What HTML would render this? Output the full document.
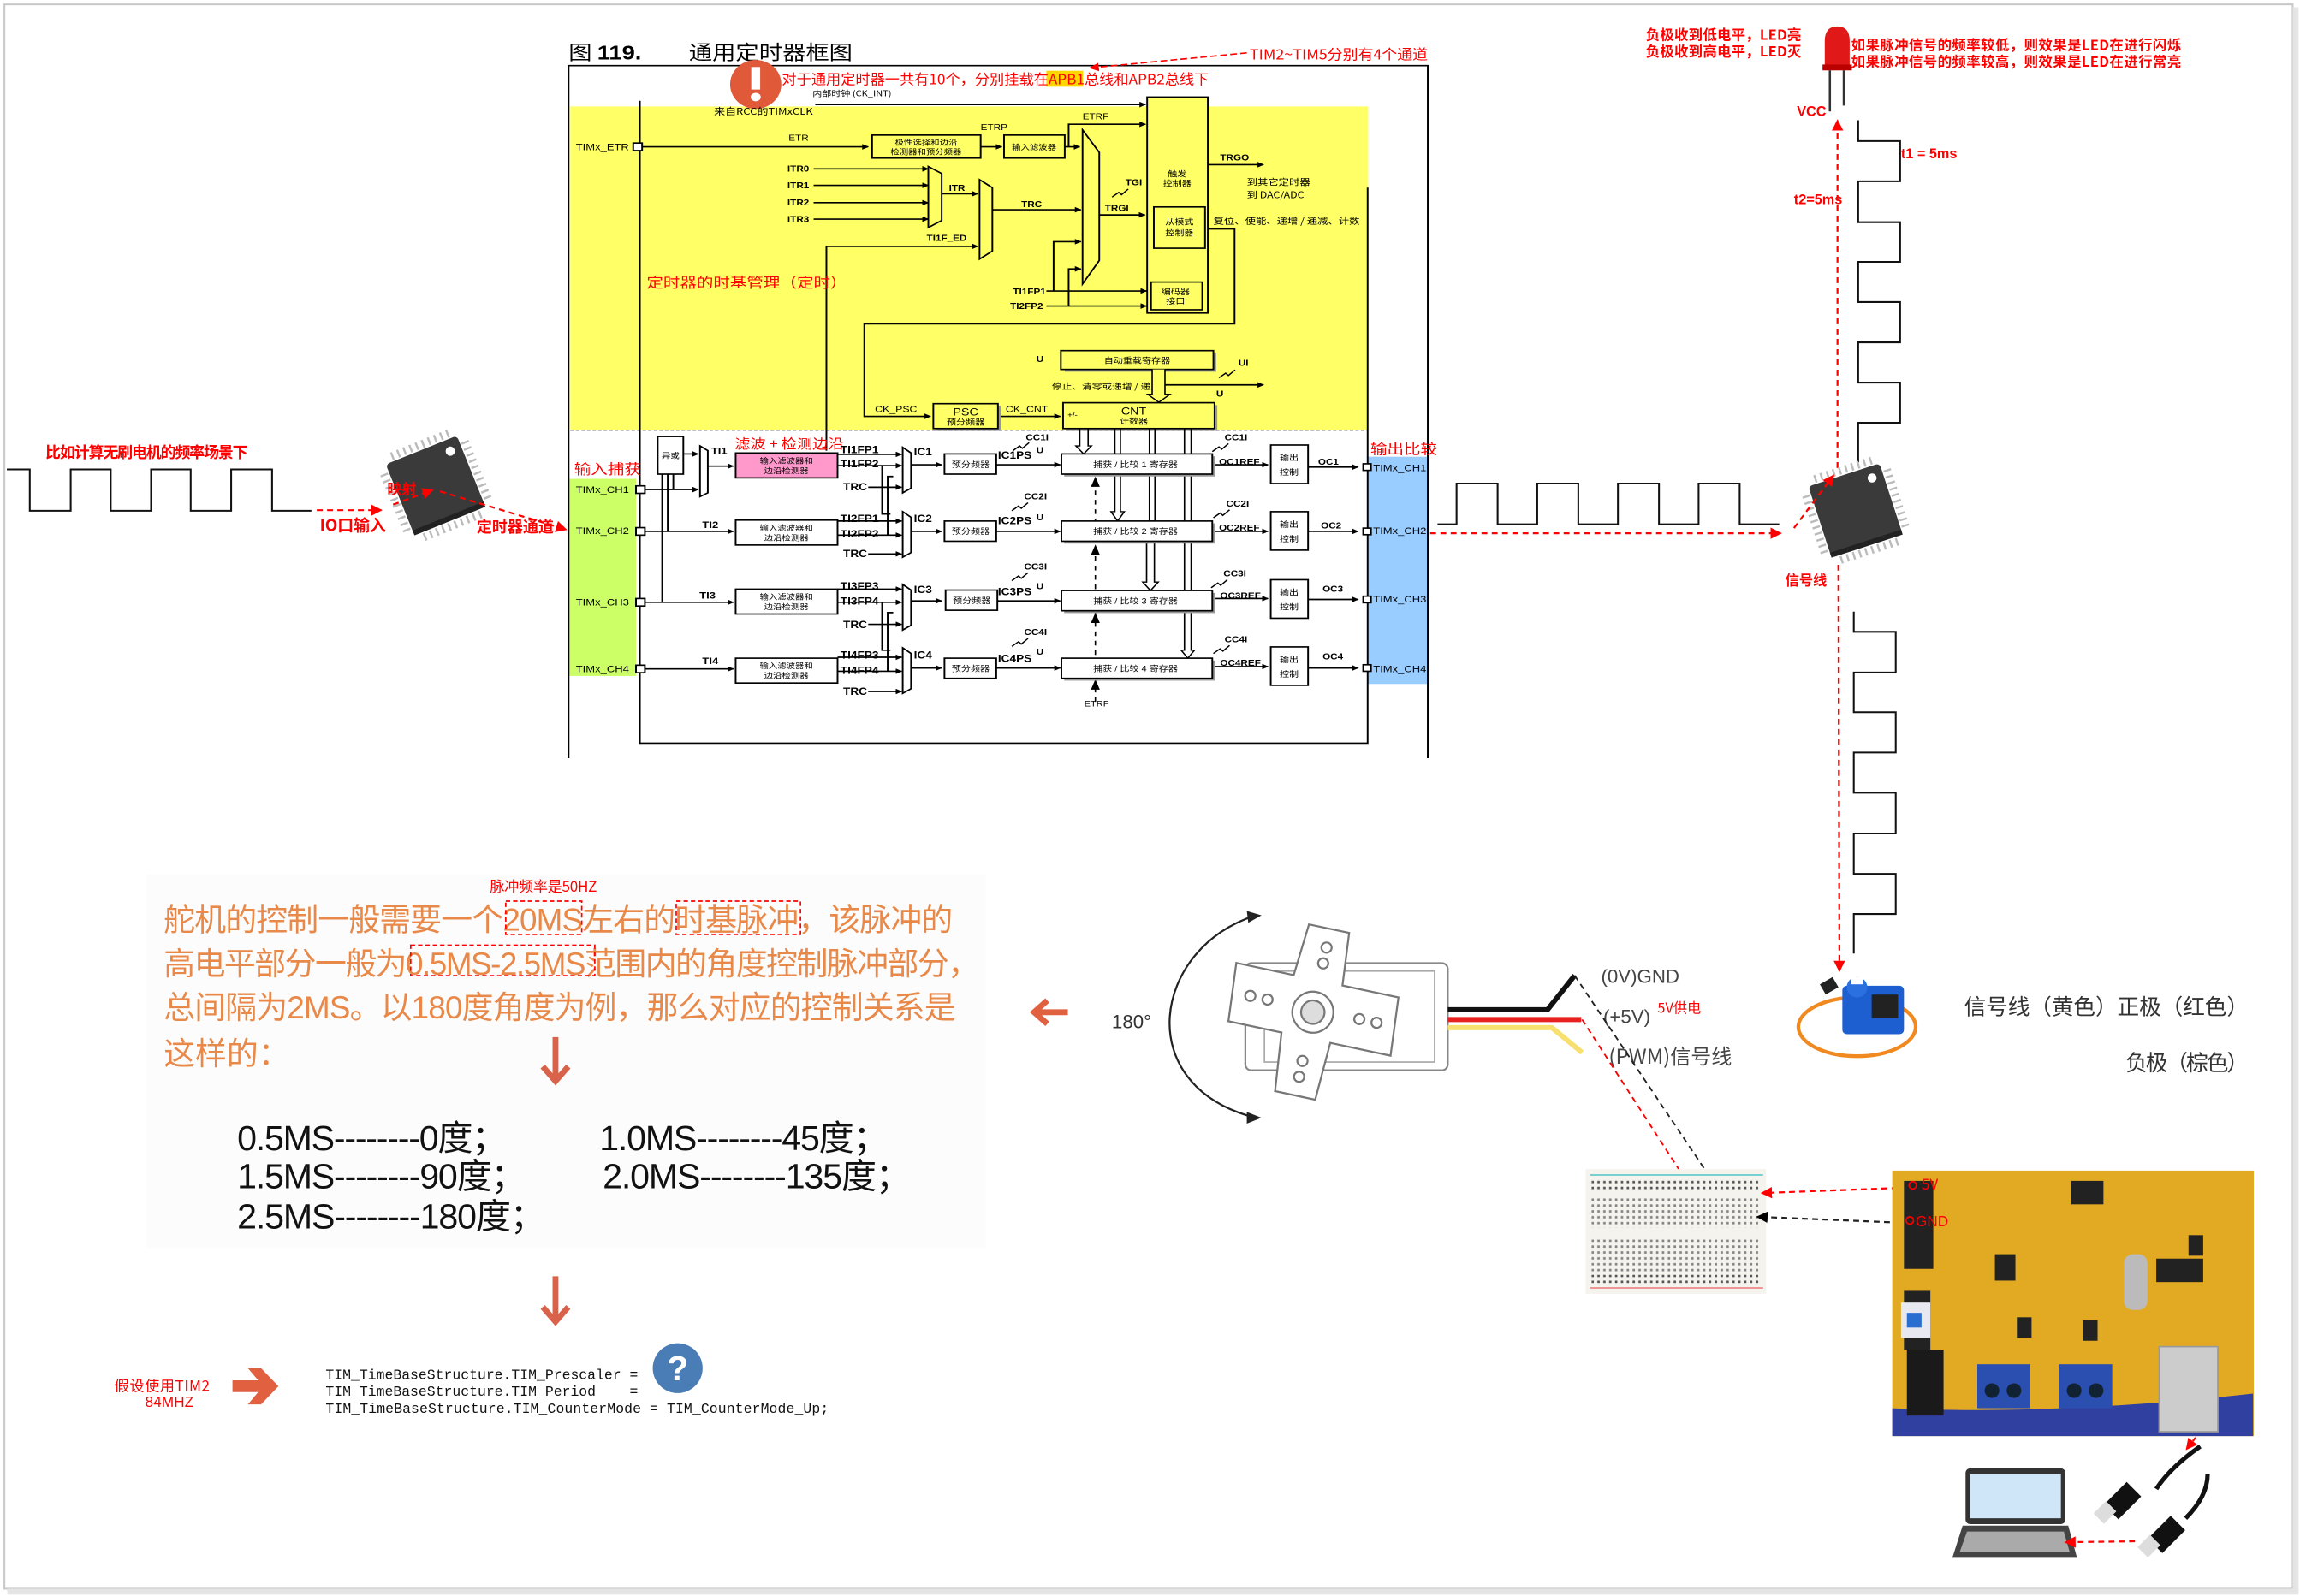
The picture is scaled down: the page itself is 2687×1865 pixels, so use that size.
<!DOCTYPE html>
<html><head><meta charset="utf-8"><style>
html,body{margin:0;padding:0;background:#fff;}
svg{display:block;}
text{font-family:"Liberation Sans","Noto Sans CJK SC",sans-serif;}
.cj{font-family:"Noto Sans CJK SC","WenQuanYi Zen Hei",sans-serif;}
.mono{font-family:"Liberation Mono",monospace;}
</style></head><body>
<svg width="2687" height="1865" viewBox="0 0 1568 1088" preserveAspectRatio="none" xmlns="http://www.w3.org/2000/svg">
<defs>
<marker id="a" viewBox="0 0 10 10" refX="9" refY="5" markerWidth="4" markerHeight="4" orient="auto"><path d="M0,0L10,5L0,10z" fill="#000"/></marker>
<marker id="r" viewBox="0 0 10 10" refX="9" refY="5" markerWidth="6" markerHeight="6" orient="auto"><path d="M0,0L10,5L0,10z" fill="#f00"/></marker>
<marker id="k" viewBox="0 0 10 10" refX="9" refY="5" markerWidth="6" markerHeight="6" orient="auto"><path d="M0,0L10,5L0,10z" fill="#000"/></marker>
<pattern id="dots" width="4" height="4" patternUnits="userSpaceOnUse"><rect x="1" y="1" width="1.6" height="1.6" fill="#555"/></pattern>
<g id="chip">
 <g stroke="#bbb" stroke-width="1.6">
  <path d="M-22,-30v-6M-17,-30v-6M-12,-30v-6M-7,-30v-6M-2,-30v-6M3,-30v-6M8,-30v-6M13,-30v-6M18,-30v-6M23,-30v-6"/>
  <path d="M-22,30v6M-17,30v6M-12,30v6M-7,30v6M-2,30v6M3,30v6M8,30v6M13,30v6M18,30v6M23,30v6"/>
  <path d="M-30,-22h-6M-30,-17h-6M-30,-12h-6M-30,-7h-6M-30,-2h-6M-30,3h-6M-30,8h-6M-30,13h-6M-30,18h-6M-30,23h-6"/>
  <path d="M30,-22h6M30,-17h6M30,-12h6M30,-7h6M30,-2h6M30,3h6M30,8h6M30,13h6M30,18h6M30,23h6"/>
 </g>
 <rect x="-29" y="-29" width="58" height="58" rx="3" fill="#3a3a3a"/>
 <rect x="-29" y="25" width="58" height="4" fill="#222"/>
 <circle cx="20" cy="-20" r="3.5" fill="#fff"/>
</g>
</defs>

<rect x="3" y="3" width="1560" height="1080" fill="none" stroke="#c8c8c8" stroke-width="1.2"/>
<rect x="1563" y="5" width="4" height="1080" fill="#e4e4e4"/>
<rect x="5" y="1083" width="1562" height="4" fill="#e4e4e4"/>

<!-- ================= TIMER DIAGRAM ================= -->
<g transform="translate(379.3,17.5) scale(0.3796,0.3201)">
 <rect x="25" y="172" width="1433" height="690" fill="#ffff66"/>
 <line x1="25" y1="862" x2="1458" y2="862" stroke="#aaa" stroke-width="3" stroke-dasharray="6,4"/>
 <rect x="22" y="965" width="121" height="420" fill="#ccff66"/>
 <rect x="1458" y="918" width="110" height="484" fill="#99ccff"/>
 <text x="22" y="72" font-size="42" class="cj">图 <tspan font-weight="bold" font-family="Liberation Sans">119.</tspan></text>
 <text x="238" y="72" font-size="42" class="cj">通用定时器框图</text>
 <g stroke="#000" stroke-width="3" fill="none">
  <path d="M22,1560V85H1565V1560"/>
  <path d="M150,160V1528H1457V345"/>
 </g>
 <line x1="1240" y1="58" x2="958" y2="90" stroke="#f00" stroke-width="3" stroke-dasharray="12,6" marker-end="url(#r)"/>
 <text x="1245" y="72" font-size="30" fill="#f00" class="cj" textLength="320" lengthAdjust="spacingAndGlyphs">TIM2~TIM5分别有4个通道</text>
 <rect x="880" y="96" width="66" height="34" fill="#ffd700"/>
 <text x="405" y="125" font-size="30" fill="#f00" class="cj" textLength="767" lengthAdjust="spacingAndGlyphs">对于通用定时器一共有10个，分别挂载在APB1总线和APB2总线下</text>
 <ellipse cx="358" cy="125" rx="46" ry="52" fill="#e05a3a"/>
 <rect x="350" y="88" width="16" height="48" fill="#fff"/><circle cx="358" cy="152" r="9" fill="#fff"/>
 <text x="460" y="150" font-size="17" class="cj">内部时钟 (CK_INT)</text>
 <text x="283" y="190" font-size="20" class="cj">来自RCC的TIMxCLK</text>
 <g stroke="#000" stroke-width="3" fill="none" marker-end="url(#a)">
  <path d="M465,168H1058"/>
  <path d="M155,258H560"/>
  <path d="M762,258H800"/>
  <path d="M913,258H940"/>
  <path d="M920,258V210H1058"/>
  <path d="M462,305H668"/><path d="M462,340H668"/><path d="M462,377H668"/><path d="M462,412H668"/>
  <path d="M692,358H757"/>
  <path d="M485,905V470H757"/>
  <path d="M783,392H942"/>
  <path d="M975,403H1057"/>
  <path d="M880,565H1060"/><path d="M880,597H1060"/>
  <path d="M893,565V460H942"/><path d="M920,597V518H942"/>
  <path d="M1170,296H1270"/>
  <path d="M1168,433H1218V635H553V832H672"/>
  <path d="M793,832H905"/>
  <path d="M1093,765H1270"/>
 </g>
 <text x="35" y="265" font-size="20">TIMx_ETR</text>
 <rect x="138" y="250" width="16" height="16" fill="#fff" stroke="#000" stroke-width="3"/>
 <text x="417" y="245" font-size="18">ETR</text>
 <rect x="567" y="233" width="195" height="49" fill="#ffff66" stroke="#000" stroke-width="3"/>
 <text x="664" y="254" font-size="16" text-anchor="middle" class="cj">极性选择和边沿</text>
 <text x="664" y="274" font-size="16" text-anchor="middle" class="cj">检测器和预分频器</text>
 <text x="762" y="222" font-size="18">ETRP</text>
 <rect x="804" y="233" width="109" height="49" fill="#ffff66" stroke="#000" stroke-width="3"/>
 <text x="858" y="264" font-size="16" text-anchor="middle" class="cj">输入滤波器</text>
 <text x="945" y="200" font-size="18">ETRF</text>
 <g font-size="18" font-weight="bold"><text x="415" y="311">ITR0</text><text x="415" y="346">ITR1</text><text x="415" y="383">ITR2</text><text x="415" y="418">ITR3</text>
 <text x="705" y="352">ITR</text><text x="665" y="458">TI1F_ED</text><text x="835" y="386">TRC</text><text x="985" y="395">TRGI</text><text x="1022" y="340">TGI</text>
 <text x="820" y="572">TI1FP1</text><text x="815" y="603">TI2FP2</text><text x="1192" y="287">TRGO</text></g>
 <g fill="#ffff66" stroke="#000" stroke-width="3">
  <path d="M668,300L692,315V415L668,430z"/>
  <path d="M760,328L783,345V480L760,497z"/>
  <path d="M945,222L975,270V500L945,550z"/>
  <rect x="1061" y="152" width="109" height="460"/>
  <rect x="1073" y="386" width="92" height="88"/>
  <rect x="1068" y="546" width="92" height="59"/>
 </g>
 <path d="M998,365l12,-10l5,5l12,-12" stroke="#000" stroke-width="2.5" fill="none"/>
 <g font-size="17" text-anchor="middle" class="cj"><text x="1115" y="322">触发</text><text x="1115" y="342">控制器</text>
 <text x="1119" y="424">从模式</text><text x="1119" y="447">控制器</text><text x="1112" y="572">编码器</text><text x="1112" y="592">接口</text></g>
 <text x="1240" y="340" font-size="19" class="cj">到其它定时器</text>
 <text x="1240" y="367" font-size="19" class="cj">到 DAC/ADC</text>
 <text x="1180" y="423" font-size="19" class="cj">复位、使能、递增 / 递减、计数</text>
 <text x="162" y="558" font-size="30" fill="#f00" class="cj">定时器的时基管理（定时）</text>
 <rect x="913" y="697" width="272" height="40" fill="#999"/>
 <rect x="906" y="692" width="274" height="40" fill="#ffff66" stroke="#000" stroke-width="3"/>
 <text x="1043" y="719" font-size="17" text-anchor="middle" class="cj">自动重载寄存器</text>
 <text x="862" y="716" font-size="18" font-weight="bold">U</text>
 <text x="1225" y="724" font-size="18" font-weight="bold">UI</text>
 <text x="1185" y="790" font-size="18" font-weight="bold">U</text>
 <text x="890" y="775" font-size="18" class="cj">停止、清零或递增 / 递减</text>
 <path d="M1070,732V785H1062L1082,802L1102,785H1093V732" fill="#ffff66" stroke="#000" stroke-width="2.5"/>
 <rect x="682" y="810" width="116" height="53" fill="#999"/>
 <rect x="677" y="805" width="116" height="53" fill="#ffff66" stroke="#000" stroke-width="3"/>
 <text x="735" y="830" font-size="22" text-anchor="middle">PSC</text>
 <text x="735" y="850" font-size="17" text-anchor="middle" class="cj">预分频器</text>
 <text x="572" y="823" font-size="19">CK_PSC</text>
 <text x="807" y="823" font-size="19">CK_CNT</text>
 <rect x="915" y="808" width="272" height="55" fill="#999"/>
 <rect x="910" y="803" width="272" height="55" fill="#ffff66" stroke="#000" stroke-width="3"/>
 <text x="918" y="834" font-size="15">+/-</text>
 <text x="1037" y="828" font-size="22" text-anchor="middle">CNT</text>
 <text x="1037" y="848" font-size="17" text-anchor="middle" class="cj">计数器</text>
 <g stroke="#000" stroke-width="2.5" fill="none">
  <path d="M940,858V895H933L947,912L961,895H955V858"/>
  <path d="M1003,858V1035H996L1008,1055L1020,1035H1013V858"/>
  <path d="M1065,858V1055H1075V858"/>
  <path d="M1128,858V1330H1122L1134,1347L1146,1330H1140V858"/>
  <path d="M1060,1098V1185H1053L1067,1203L1081,1185H1074V1098"/>
  <path d="M968,1440V960" stroke-dasharray="10,10"/>
 </g>
 <path d="M968,960l-8,22h16z M968,1105l-8,22h16z M968,1250l-8,22h16z M968,1392l-8,22h16z" fill="#000"/>
 <text x="948" y="1450" font-size="17">ETRF</text>
 <text x="32" y="955" font-size="30" fill="#f00" class="cj">输入捕获</text>
 <text x="1462" y="912" font-size="30" fill="#f00" class="cj">输出比较</text>
 <text x="320" y="900" font-size="28" fill="#f00" class="cj">滤波 + 检测边沿</text>
 <rect x="182" y="875" width="46" height="80" fill="#fff" stroke="#000" stroke-width="3"/>
 <text x="205" y="921" font-size="16" text-anchor="middle" class="cj">异或</text>
 <path d="M258,895L272,905V995L258,1003z" fill="#fff" stroke="#000" stroke-width="3"/>
 <g stroke="#000" stroke-width="3" fill="none" marker-end="url(#a)">
  <path d="M228,912H255"/><path d="M155,988H255"/>
  <path d="M272,938H318"/>
  <path d="M155,1077H318"/><path d="M155,1228H318"/><path d="M155,1370H318"/>
 </g>
 <g stroke="#000" stroke-width="3" fill="none"><path d="M190,955V1228"/><path d="M200,955V1077"/><path d="M210,955V988"/></g>
 <text x="278" y="912" font-size="20" font-weight="bold">TI1</text>
 <text x="262" y="1070" font-size="20" font-weight="bold">TI2</text>
 <text x="257" y="1220" font-size="20" font-weight="bold">TI3</text>
 <text x="262" y="1360" font-size="20" font-weight="bold">TI4</text>
 <g font-size="20"><text x="35" y="995">TIMx_CH1</text><text x="35" y="1083">TIMx_CH2</text><text x="35" y="1235">TIMx_CH3</text><text x="35" y="1377">TIMx_CH4</text></g>
 <g fill="#fff" stroke="#000" stroke-width="3"><rect x="143" y="980" width="16" height="16"/><rect x="143" y="1069" width="16" height="16"/><rect x="143" y="1220" width="16" height="16"/><rect x="143" y="1362" width="16" height="16"/></g>
 <rect x="322" y="910" width="183" height="53" fill="#ff99cc" stroke="#000" stroke-width="3"/>
 <g stroke="#000" stroke-width="3" fill="#fff">
  <rect x="322" y="1053" width="183" height="53"/><rect x="322" y="1200" width="183" height="53"/><rect x="322" y="1347" width="183" height="53"/>
 </g>
 <g font-size="16" text-anchor="middle" class="cj">
  <text x="413" y="932">输入滤波器和</text><text x="413" y="953">边沿检测器</text>
  <text x="413" y="1075">输入滤波器和</text><text x="413" y="1096">边沿检测器</text>
  <text x="413" y="1222">输入滤波器和</text><text x="413" y="1243">边沿检测器</text>
  <text x="413" y="1369">输入滤波器和</text><text x="413" y="1390">边沿检测器</text>
 </g>
 <g font-size="21" font-weight="bold">
  <text x="510" y="910">TI1FP1</text><text x="510" y="940">TI1FP2</text><text x="515" y="990">TRC</text>
  <text x="510" y="1057">TI2FP1</text><text x="510" y="1090">TI2FP2</text><text x="515" y="1132">TRC</text>
  <text x="510" y="1201">TI3FP3</text><text x="510" y="1233">TI3FP4</text><text x="515" y="1283">TRC</text>
  <text x="510" y="1348">TI4FP3</text><text x="510" y="1381">TI4FP4</text><text x="515" y="1425">TRC</text>
  <text x="642" y="915">IC1</text><text x="642" y="1057">IC2</text><text x="642" y="1208">IC3</text><text x="642" y="1348">IC4</text>
  <text x="793" y="922">IC1PS</text><text x="793" y="1062">IC2PS</text><text x="793" y="1213">IC3PS</text><text x="793" y="1355">IC4PS</text>
 </g>
 <g font-size="18" font-weight="bold">
  <text x="843" y="883">CC1I</text><text x="840" y="1009">CC2I</text><text x="840" y="1158">CC3I</text><text x="840" y="1298">CC4I</text>
  <text x="1200" y="883">CC1I</text><text x="1203" y="1024">CC2I</text><text x="1198" y="1173">CC3I</text><text x="1200" y="1313">CC4I</text>
  <text x="862" y="910">U</text><text x="862" y="1053">U</text><text x="862" y="1200">U</text><text x="862" y="1340">U</text>
  <text x="1190" y="935">OC1REF</text><text x="1190" y="1075">OC2REF</text><text x="1192" y="1220">OC3REF</text><text x="1192" y="1363">OC4REF</text>
  <text x="1368" y="935">OC1</text><text x="1373" y="1071">OC2</text><text x="1376" y="1206">OC3</text><text x="1376" y="1350">OC4</text>
 </g>
 <g font-size="20"><text x="1467" y="949">TIMx_CH1</text><text x="1467" y="1083">TIMx_CH2</text><text x="1467" y="1228">TIMx_CH3</text><text x="1467" y="1377">TIMx_CH4</text></g>
 <g stroke="#000" stroke-width="3" fill="none" marker-end="url(#a)">
  <path d="M505,913H620"/><path d="M505,937H620"/><path d="M560,983H620"/>
  <path d="M505,1055H620"/><path d="M505,1085H620"/><path d="M560,1125H620"/>
  <path d="M505,1200H620"/><path d="M505,1228H620"/><path d="M560,1275H620"/>
  <path d="M505,1345H620"/><path d="M505,1375H620"/><path d="M560,1418H620"/>
  <path d="M637,935H692"/><path d="M637,1077H692"/><path d="M637,1225H692"/><path d="M637,1368H692"/>
  <path d="M790,935H905"/><path d="M790,1077H905"/><path d="M790,1225H905"/><path d="M790,1368H905"/>
  <path d="M1178,935H1278"/><path d="M1178,1077H1278"/><path d="M1178,1220H1278"/><path d="M1178,1365H1278"/>
  <path d="M1350,940H1440"/><path d="M1350,1077H1440"/><path d="M1350,1222H1440"/><path d="M1350,1368H1440"/>
 </g>
 <g stroke="#000" stroke-width="3" fill="none"><path d="M585,937V1040H600"/><path d="M595,1085V960H605"/><path d="M585,1228V1330H600"/><path d="M595,1375V1250H605"/></g>
 <g fill="#fff" stroke="#000" stroke-width="3">
  <path d="M622,898L637,910V985L622,995z"/><path d="M622,1035L637,1047V1122L622,1132z"/>
  <path d="M622,1190L637,1202V1277L622,1287z"/><path d="M622,1325L637,1337V1412L622,1422z"/>
  <rect x="697" y="912" width="93" height="43"/><rect x="697" y="1055" width="93" height="43"/><rect x="699" y="1202" width="93" height="43"/><rect x="697" y="1347" width="93" height="43"/>
 </g>
 <g font-size="17" text-anchor="middle" class="cj"><text x="744" y="940">预分频器</text><text x="744" y="1083">预分频器</text><text x="746" y="1230">预分频器</text><text x="744" y="1375">预分频器</text></g>
 <g fill="#999"><rect x="912" y="917" width="271" height="43"/><rect x="912" y="1060" width="271" height="43"/><rect x="912" y="1208" width="271" height="43"/><rect x="912" y="1352" width="271" height="43"/></g>
 <g fill="#fff" stroke="#000" stroke-width="3">
  <rect x="907" y="912" width="271" height="43"/><rect x="907" y="1055" width="271" height="43"/><rect x="907" y="1203" width="271" height="43"/><rect x="907" y="1347" width="271" height="43"/>
  <rect x="1283" y="893" width="67" height="82"/><rect x="1283" y="1035" width="67" height="82"/><rect x="1283" y="1180" width="67" height="82"/><rect x="1283" y="1323" width="67" height="82"/>
  <rect x="1449" y="933" width="14" height="14"/><rect x="1449" y="1070" width="14" height="14"/><rect x="1449" y="1215" width="14" height="14"/><rect x="1449" y="1361" width="14" height="14"/>
 </g>
 <g font-size="17" text-anchor="middle" class="cj">
  <text x="1040" y="940">捕获 / 比较 1 寄存器</text><text x="1040" y="1083">捕获 / 比较 2 寄存器</text><text x="1040" y="1231">捕获 / 比较 3 寄存器</text><text x="1040" y="1375">捕获 / 比较 4 寄存器</text>
  <text x="1316" y="926">输出</text><text x="1316" y="957">控制</text><text x="1316" y="1068">输出</text><text x="1316" y="1099">控制</text>
  <text x="1316" y="1213">输出</text><text x="1316" y="1244">控制</text><text x="1316" y="1356">输出</text><text x="1316" y="1387">控制</text>
 </g>
 <g stroke="#000" stroke-width="2.5" fill="none">
  <path d="M820,905l12,-10l5,5l12,-12"/><path d="M818,1033l12,-10l5,5l12,-12"/><path d="M818,1182l12,-10l5,5l12,-12"/><path d="M818,1322l12,-10l5,5l12,-12"/>
  <path d="M1178,907l12,-10l5,5l12,-12"/><path d="M1180,1048l12,-10l5,5l12,-12"/><path d="M1176,1197l12,-10l5,5l12,-12"/><path d="M1180,1337l12,-10l5,5l12,-12"/>
  <path d="M1190,750l12,-10l5,5l12,-12"/>
 </g>
</g>

<!-- ================= LEFT ================= -->
<text x="31" y="312" font-size="10.5" fill="#f00" font-weight="bold" textLength="138" class="cj">比如计算无刷电机的频率场景下</text>
<path d="M4.7,320H20.3V348.2H48.2V320H75.5V348.2H103V320H130V348.2H157.6V320H185.5V348.2H212.3" fill="none" stroke="#111" stroke-width="1.2"/>
<line x1="216" y1="347.8" x2="260" y2="347.8" stroke="#f00" stroke-width="1.3" stroke-dasharray="4,3" marker-end="url(#r)"/>
<g transform="translate(297,331) rotate(-22) scale(0.9)"><use href="#chip"/></g>
<text x="218" y="362" font-size="11" fill="#f00" font-weight="bold" class="cj">IO口输入</text>
<text x="264" y="337" font-size="10" fill="#f00" font-weight="bold" class="cj">映射</text>
<line x1="268" y1="344" x2="295" y2="334" stroke="#f00" stroke-width="1.3" stroke-dasharray="4,3" marker-end="url(#r)"/>
<line x1="300" y1="335" x2="386" y2="361" stroke="#f00" stroke-width="1.3" stroke-dasharray="4,3" marker-end="url(#r)"/>
<text x="325" y="363" font-size="10.5" fill="#f00" font-weight="bold" class="cj">定时器通道</text>

<!-- ================= RIGHT ================= -->
<text x="1122" y="27" font-size="9.6" fill="#f00" font-weight="bold" textLength="106" class="cj">负极收到低电平，LED亮</text>
<text x="1122" y="38.5" font-size="9.6" fill="#f00" font-weight="bold" textLength="106" class="cj">负极收到高电平，LED灭</text>
<text x="1262" y="34" font-size="9.6" fill="#f00" font-weight="bold" textLength="225" class="cj">如果脉冲信号的频率较低，则效果是LED在进行闪烁</text>
<text x="1262" y="45.5" font-size="9.6" fill="#f00" font-weight="bold" textLength="225" class="cj">如果脉冲信号的频率较高，则效果是LED在进行常亮</text>
<path d="M1244,47V28Q1244,18 1252.5,18Q1261,18 1261,28V47z" fill="#e01818"/>
<rect x="1242.5" y="44" width="20" height="4" fill="#b00"/>
<path d="M1247.5,48V76M1257,48V72" stroke="#333" stroke-width="1.5"/>
<text x="1225" y="79" font-size="9.5" fill="#f00" font-weight="bold">VCC</text>
<line x1="1252.7" y1="319" x2="1252.7" y2="82" stroke="#f00" stroke-width="1.3" stroke-dasharray="4,3" marker-end="url(#r)"/>
<text x="1223" y="139" font-size="9.5" fill="#f00" font-weight="bold">t2=5ms</text>
<text x="1296" y="108" font-size="9.5" fill="#f00" font-weight="bold">t1 = 5ms</text>
<path d="M1266.8,82V96.2H1295.4V123.6H1266.8V151.5H1295.4V178.5H1266.8V205.9H1295.4V233.4H1266.8V260.8H1295.4V288.2H1266.8V315.2" fill="none" stroke="#111" stroke-width="1.2"/>
<path d="M1263.8,417V430.7H1292.4V458.5H1263.8V485.5H1292.4V513H1263.8V540.4H1292.4V568.2H1263.8V595.7H1292.4V623.1H1263.8V650" fill="none" stroke="#111" stroke-width="1.2"/>
<path d="M980,357.4H993V329.6H1021V357.4H1048V329.6H1076V357.4H1103V329.6H1131V357.4H1158V329.6H1186V357.4H1213" fill="none" stroke="#111" stroke-width="1.2"/>
<line x1="975" y1="363.5" x2="1214" y2="363.5" stroke="#f00" stroke-width="1.3" stroke-dasharray="4,3" marker-end="url(#r)"/>
<g transform="translate(1265,348) rotate(-18) scale(0.88)"><use href="#chip"/></g>
<line x1="1223" y1="360" x2="1250" y2="324" stroke="#f00" stroke-width="1.3" stroke-dasharray="4,3" marker-end="url(#r)"/>
<text x="1217" y="399" font-size="9.5" fill="#f00" font-weight="bold" class="cj">信号线</text>
<line x1="1253.3" y1="385" x2="1254" y2="662" stroke="#f00" stroke-width="1.3" stroke-dasharray="4,3" marker-end="url(#r)"/>

<!-- ================= BOTTOM LEFT ================= -->
<rect x="100" y="596" width="572" height="255" fill="#fcfcfc"/>
<text x="334" y="608" font-size="10" fill="#f00" textLength="73" class="cj">脉冲频率是50HZ</text>
<g font-size="21.5" fill="#e8894a" class="cj">
 <text x="111.6" y="634.4" textLength="538">舵机的控制一般需要一个20MS左右的时基脉冲，该脉冲的</text>
 <text x="111.6" y="664.4" textLength="556">高电平部分一般为0.5MS-2.5MS范围内的角度控制脉冲部分，</text>
 <text x="111.6" y="694.3" textLength="540">总间隔为2MS。以180度角度为例，那么对应的控制关系是</text>
 <text x="111.6" y="725.6">这样的：</text>
</g>
<g fill="none" stroke="#f00" stroke-width="1" stroke-dasharray="3,2">
 <rect x="344.8" y="614.3" width="51.8" height="22.7"/>
 <rect x="461" y="614.3" width="84.7" height="22.7"/>
 <rect x="280" y="644.3" width="125.5" height="20.8"/>
</g>
<g stroke="#d9634a" stroke-width="4" fill="none">
 <path d="M378.7,707V736M370,727L378.7,737L387.4,727"/>
 <path d="M378.7,870V900M370,891L378.7,901L387.4,891"/>
</g>
<g font-size="24" fill="#111" class="cj">
 <text x="161.7" y="784" textLength="184">0.5MS--------0度；</text>
 <text x="408.6" y="784" textLength="197">1.0MS--------45度；</text>
 <text x="161.7" y="810" textLength="197">1.5MS--------90度；</text>
 <text x="410.9" y="810" textLength="210">2.0MS--------135度；</text>
 <text x="161.7" y="837.5" textLength="210">2.5MS--------180度；</text>
</g>
<text x="78" y="948.3" font-size="10" fill="#f00" textLength="65" class="cj">假设使用TIM2</text>
<text x="99" y="959.2" font-size="10" fill="#f00" textLength="33">84MHZ</text>
<path d="M158.5,941H176L169,932.7H178L189.8,945L178,957.4H169L176,949H158.5z" fill="#e06040"/>
<g font-size="9.6" fill="#111">
 <text x="222" y="940" class="mono" xml:space="preserve">TIM_TimeBaseStructure.TIM_Prescaler =</text>
 <text x="222" y="951.4" class="mono" xml:space="preserve">TIM_TimeBaseStructure.TIM_Period    =</text>
 <text x="222" y="963.2" class="mono" textLength="343">TIM_TimeBaseStructure.TIM_CounterMode = TIM_CounterMode_Up;</text>
</g>
<circle cx="462" cy="932.7" r="17" fill="#4a7db5"/>
<text x="462" y="941" font-size="24" fill="#fff" font-weight="bold" text-anchor="middle">?</text>
<path d="M728,690H705M714,682L705,690L714,698" stroke="#e06040" stroke-width="4" fill="none"/>

<!-- ================= SERVO ================= -->
<path d="M856,624C786,646 770,740 856,762" fill="none" stroke="#222" stroke-width="1.3"/>
<path d="M850,621L860,624L851,629z M850,758L860,762L850,766z" fill="#222"/>
<text x="758" y="701" font-size="13" fill="#333">180°</text>
<rect x="849" y="656.6" width="138" height="73" rx="4" fill="#fff" stroke="#888" stroke-width="1.3"/>
<rect x="862" y="662" width="116" height="62" fill="none" stroke="#aaa" stroke-width="1"/>
<g transform="translate(895,690) rotate(12)" fill="#fff" stroke="#777" stroke-width="1.3">
 <path d="M-15,-58H13L16,-22H55L58,18H16L14,58H-14L-18,18H-55L-58,-22H-18z"/>
 <circle r="14"/><circle r="8" fill="#ddd"/>
 <circle cx="0" cy="-45" r="3.5"/><circle cx="0" cy="-34" r="3.5"/><circle cx="0" cy="34" r="3.5"/><circle cx="0" cy="45" r="3.5"/>
 <circle cx="-44" cy="-2" r="3.5"/><circle cx="-32" cy="-2" r="3.5"/><circle cx="32" cy="-2" r="3.5"/><circle cx="44" cy="-2" r="3.5"/>
</g>
<path d="M987,688.3H1055L1073.5,665" stroke="#111" stroke-width="3.5" fill="none"/>
<path d="M987,695H1078" stroke="#e82020" stroke-width="3.5" fill="none"/>
<path d="M987,700.6H1058L1078.6,717.5" stroke="#f8e070" stroke-width="3.5" fill="none"/>
<text x="1091.5" y="670" font-size="13" fill="#444">(0V)GND</text>
<text x="1093" y="697.5" font-size="13" fill="#444">(+5V)</text>
<text x="1130" y="690.5" font-size="9.5" fill="#f00" class="cj">5V供电</text>
<text x="1096.7" y="725" font-size="14" fill="#444" class="cj">(PWM)信号线</text>
<line x1="1073.5" y1="665" x2="1181.9" y2="826.5" stroke="#222" stroke-width="1.1" stroke-dasharray="4,3" marker-end="url(#k)"/>
<line x1="1078.6" y1="695" x2="1153.5" y2="811" stroke="#f00" stroke-width="1.1" stroke-dasharray="4,3" marker-end="url(#r)"/>

<rect x="1081" y="797" width="123" height="85" fill="#f4f3ee"/>
<line x1="1084" y1="801" x2="1202" y2="801" stroke="#6cc" stroke-width="1"/>
<line x1="1084" y1="878" x2="1202" y2="878" stroke="#e88" stroke-width="1"/>
<rect x="1085" y="803" width="115" height="8" fill="url(#dots)"/>
<rect x="1085" y="815" width="115" height="22" fill="url(#dots)" opacity="0.7"/>
<rect x="1085" y="845" width="115" height="22" fill="url(#dots)" opacity="0.7"/>
<rect x="1085" y="869" width="115" height="7" fill="url(#dots)"/>
<line x1="1300.6" y1="809.6" x2="1201" y2="813.3" stroke="#f00" stroke-width="1.3" stroke-dasharray="4,3" marker-end="url(#r)"/>
<line x1="1295.4" y1="833.5" x2="1198" y2="829.5" stroke="#222" stroke-width="1.3" stroke-dasharray="4,3" marker-end="url(#k)"/>

<rect x="1290" y="798" width="246.5" height="181" fill="#e2aa22"/>
<path d="M1290,960Q1400,965 1536,950V979H1290z" fill="#3040a0"/>
<rect x="1298" y="805" width="20" height="60" fill="#222"/>
<rect x="1298" y="880" width="18" height="40" fill="#222"/>
<rect x="1296" y="888" width="20" height="24" fill="#e8e8f0"/><rect x="1300" y="895" width="10" height="10" fill="#2a6fd0"/>
<rect x="1300" y="920" width="25" height="45" fill="#1a1a1a"/>
<rect x="1348" y="930" width="36" height="30" fill="#2a4fb0"/><rect x="1404" y="930" width="36" height="30" fill="#2a4fb0"/>
<circle cx="1358" cy="948" r="5" fill="#123"/><circle cx="1373" cy="948" r="5" fill="#123"/>
<circle cx="1414" cy="948" r="5" fill="#123"/><circle cx="1429" cy="948" r="5" fill="#123"/>
<rect x="1472" y="918" width="40" height="58" fill="#ccc" stroke="#999"/>
<rect x="1412" y="805" width="22" height="16" fill="#222"/>
<rect x="1448" y="855" width="16" height="38" rx="6" fill="#bbb"/>
<rect x="1470" y="858" width="32" height="16" fill="#222"/>
<rect x="1360" y="855" width="14" height="18" fill="#222"/><rect x="1375" y="898" width="10" height="14" fill="#222"/>
<rect x="1420" y="900" width="10" height="14" fill="#222"/><rect x="1492" y="842" width="10" height="14" fill="#222"/>
<text x="1310" y="811" font-size="10" fill="#f00" class="cj">5V</text>
<text x="1306" y="836" font-size="10" fill="#f00">GND</text>
<circle cx="1304" cy="808" r="2.5" fill="none" stroke="#f00"/><circle cx="1302" cy="832" r="2.5" fill="none" stroke="#f00"/>

<ellipse cx="1266" cy="700" rx="40" ry="20" fill="none" stroke="#f08a20" stroke-width="2.5"/>
<rect x="1256" y="672" width="42" height="33" rx="3" fill="#1d5fd0"/>
<circle cx="1266" cy="673" r="7" fill="#2a70e0"/><rect x="1262" y="666" width="8" height="5" fill="#fff"/>
<rect x="1276" y="678" width="18" height="16" fill="#222"/>
<rect x="1242" y="668" width="10" height="8" fill="#222" transform="rotate(-30 1247 672)"/>
<text x="1339" y="691.5" font-size="15" fill="#333" textLength="194" class="cj">信号线（黄色）正极（红色）</text>
<text x="1449" y="729.7" font-size="15" fill="#333" textLength="84" class="cj">负极（棕色）</text>

<rect x="1340" y="1001" width="68" height="38" rx="3" fill="#333"/>
<rect x="1343" y="1005" width="62" height="30" fill="#cfe6f8"/>
<path d="M1338,1040H1410L1416,1062H1331z" fill="#444"/>
<path d="M1341,1044H1407L1411,1058H1336z" fill="#aaa"/>
<path d="M1500,986Q1480,1000 1470,1015" stroke="#111" stroke-width="3" fill="none"/>
<path d="M1505,1005Q1505,1020 1490,1035" stroke="#111" stroke-width="3" fill="none"/>
<rect x="1440" y="1012" width="14" height="22" fill="#111" transform="rotate(45 1447 1023)"/>
<rect x="1430" y="1025" width="10" height="12" fill="#ddd" transform="rotate(45 1435 1031)"/>
<rect x="1470" y="1035" width="14" height="22" fill="#111" transform="rotate(45 1477 1046)"/>
<rect x="1460" y="1048" width="10" height="12" fill="#ddd" transform="rotate(45 1465 1054)"/>
<line x1="1496.8" y1="980" x2="1490.6" y2="988" stroke="#f00" stroke-width="1.3" stroke-dasharray="3,2" marker-end="url(#r)"/>
<line x1="1455.5" y1="1050.7" x2="1408" y2="1051.3" stroke="#f00" stroke-width="1.3" stroke-dasharray="4,3" marker-end="url(#r)"/>
</svg>
</body></html>
